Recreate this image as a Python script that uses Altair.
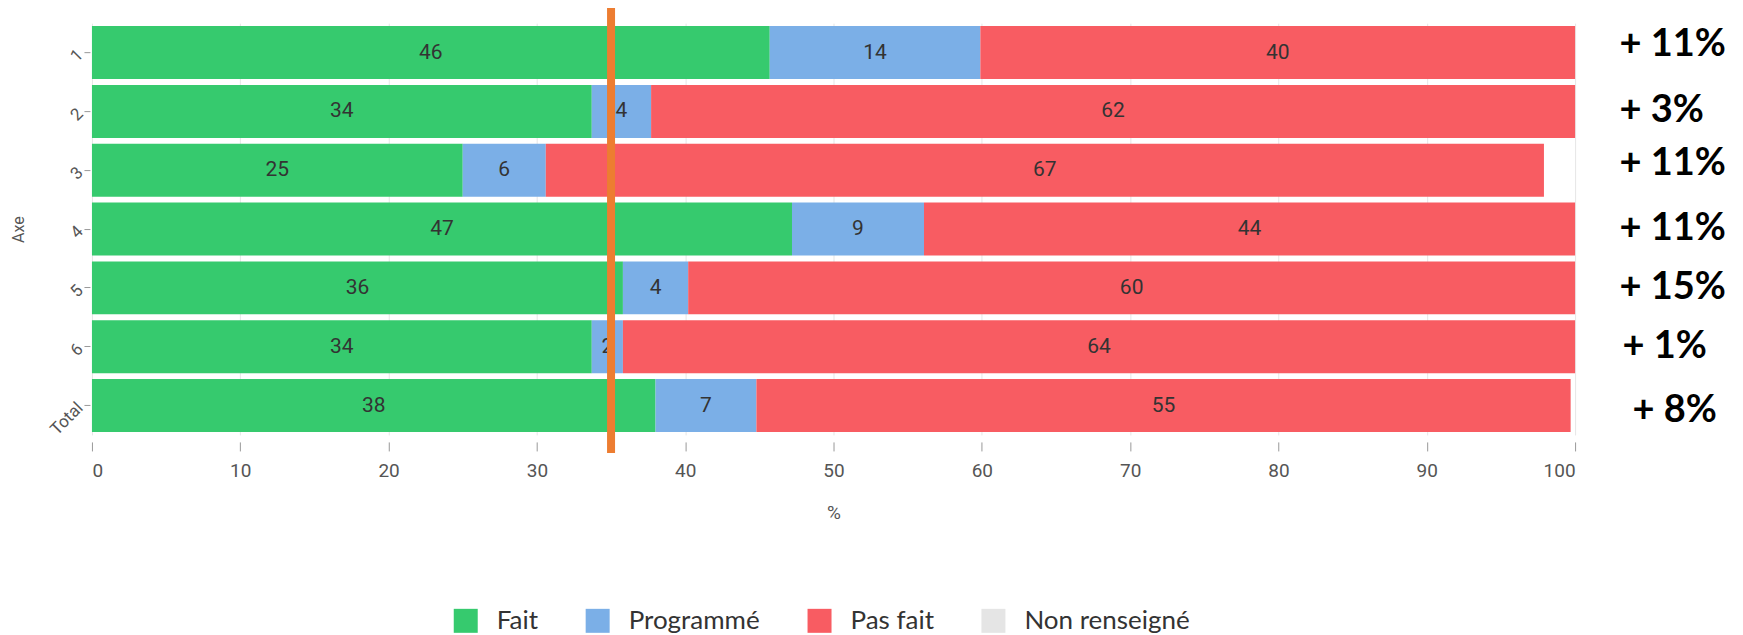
import altair as alt
import pandas as pd

categories = ["1", "2", "3", "4", "5", "6", "Total"]
fait = [45.7, 33.7, 25.0, 47.2, 35.8, 33.7, 38.0]
programme = [14.2, 4.0, 5.6, 8.9, 4.4, 2.1, 6.8]
pas_fait = [40.1, 62.3, 67.3, 43.9, 59.8, 64.2, 54.9]
evolution = ["+ 11%", "+ 3%", "+ 11%", "+ 11%", "+ 15%", "+ 1%", "+ 8%"]
statuts = ["Fait", "Programmé", "Pas fait", "Non renseigné"]
colors = ["#36CA6E", "#7BAFE7", "#F85C62", "#E5E5E5"]
reference = [35]
x_ticks = [0, 10, 20, 30, 40, 50, 60, 70, 80, 90, 100]

rows = []
for i, c in enumerate(categories):
    for k, (s, vals) in enumerate(zip(statuts[:3], [fait, programme, pas_fait])):
        rows.append({"axe": c, "statut": s, "value": vals[i], "ord": k})
df = pd.DataFrame(rows)
cat_df = pd.DataFrame({"axe": categories, "evo": evolution})
ref_df = pd.DataFrame({"v": reference})

label_expr = " : ".join(
    f"datum.value == '{c}' ? '{e}'" for c, e in zip(categories, evolution)
) + " : ''"
# small hand-placement of the overlaid annotations (as in the original image)
offset_expr = ("datum.value == '1' ? -8 : datum.value == '3' ? -6 : "
               "datum.value == 'Total' ? 5 : 0")
padding_expr = ("datum.value == 'Total' ? 57 : datum.value == '6' ? 47 : 44")

yscale = alt.Scale(paddingInner=0.1, paddingOuter=0.05)
xscale = alt.Scale(domain=[0, 100], nice=False)

base = alt.Chart(df).transform_stack(
    stack="value", groupby=["axe"], as_=["x0", "x1"], sort=[alt.SortField("ord")]
).transform_calculate(mid="(datum.x0 + datum.x1) / 2")

bars = base.mark_bar().encode(
    y=alt.Y("axe:N", sort=categories, scale=yscale,
            axis=alt.Axis(title="Axe", labelAngle=315, labelAlign="right",
                          labelBaseline="middle", labelFont="Roboto",
                          labelFontSize=17, labelColor="#555555",
                          labelPadding=4, tickSize=6, offset=2,
                          tickColor="#999999", domain=False,
                          titleFont="Roboto", titleFontSize=16,
                          titleFontWeight="normal", titleColor="#555555",
                          titlePadding=20)),
    x=alt.X("x0:Q", scale=xscale, title="%",
            axis=alt.Axis(values=x_ticks, grid=True, gridColor="#E6E6E6",
                          domain=False, tickSize=9, offset=7,
                          tickColor="#999999", labelFont="Roboto",
                          labelFontSize=19, labelColor="#555555",
                          labelPadding=11, titleFont="Roboto",
                          titleFontSize=19, titleFontWeight="normal",
                          titleColor="#555555", titlePadding=23)),
    x2="x1:Q",
    color=alt.Color("statut:N",
                    scale=alt.Scale(domain=statuts, range=colors),
                    legend=alt.Legend(title=None, orient="none", direction="horizontal",
                                      legendX=361, legendY=585,
                                      symbolType="square",
                                      symbolSize=576, symbolStrokeWidth=0,
                                      labelFont="Lato", labelFontSize=26,
                                      labelColor="#333333", labelOffset=18,
                                      labelLimit=400,
                                      columnPadding=46, padding=0)),
    order=alt.Order("ord:Q"),
)

texts = base.mark_text(font="Roboto", fontSize=21, color="#333333").encode(
    y=alt.Y("axe:N", sort=categories, scale=yscale, axis=None),
    x=alt.X("mid:Q", scale=xscale, title="%"),
    text=alt.Text("value:Q", format=".0f"),
)

ref_rule = alt.Chart(ref_df).mark_rule(color="#ED7D31", strokeWidth=8).encode(
    x=alt.X("v:Q", scale=xscale, title="%"),
    y=alt.value(-17),
    y2=alt.value(430),
)

annot = alt.Chart(cat_df).mark_tick(opacity=0).encode(
    y=alt.Y("axe:N", sort=categories, scale=yscale,
            axis=alt.Axis(orient="right", title=None, labelExpr=label_expr,
                          ticks=False, domain=False,
                          labelPadding=alt.ExprRef(padding_expr),
                          labelOffset=alt.ExprRef(offset_expr),
                          labelFont="Lato", labelFontSize=38,
                          labelFontWeight="bold", labelColor="#000000",
                          labelAlign="left", labelBaseline="middle",
                          labelLimit=300)),
)

chart = alt.layer(bars, texts, ref_rule, annot).resolve_axis(
    y="independent"
).properties(
    width=1484, height=412,
    autosize=alt.AutoSizeParams(type="none"),
    padding={"left": 84, "top": 15, "right": 160, "bottom": 200},
).configure_view(stroke=None)

chart.save("out.html", embed_options={"renderer": "svg", "actions": False})
